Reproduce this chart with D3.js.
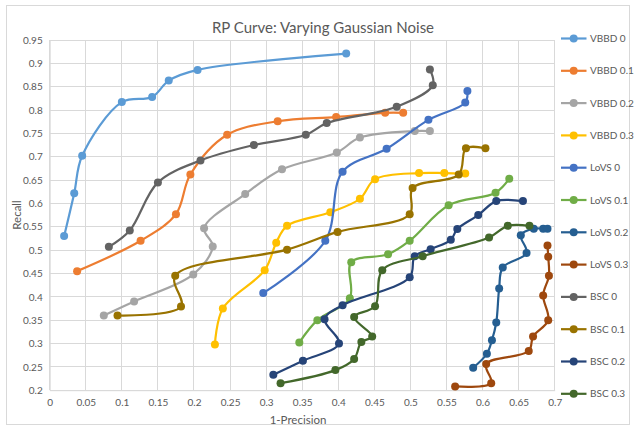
<!DOCTYPE html>
<html>
<head>
<meta charset="utf-8">
<script src="https://cdn.jsdelivr.net/npm/d3@7"></script>
<style>
  html, body { margin: 0; padding: 0; background: #fff; }
  svg { display: block; font-family: Lato, "Open Sans", sans-serif; }
</style>
</head>
<body>
<svg id="chart" width="636" height="430"></svg>
<script>
// Recall vs. (1 - precision) for each detector and noise level: [1-precision, recall]
const vbbd0  = [[0.020,0.530],[0.034,0.622],[0.045,0.702],[0.100,0.817],[0.142,0.828],[0.165,0.863],[0.205,0.886],[0.411,0.921]];
const vbbd01 = [[0.038,0.455],[0.126,0.520],[0.175,0.577],[0.195,0.662],[0.246,0.747],[0.316,0.776],[0.397,0.785],[0.465,0.794],[0.490,0.794]];
const vbbd02 = [[0.075,0.360],[0.117,0.390],[0.199,0.448],[0.226,0.508],[0.214,0.547],[0.271,0.620],[0.322,0.673],[0.398,0.709],[0.430,0.741],[0.506,0.755],[0.527,0.755]];
const vbbd03 = [[0.229,0.298],[0.240,0.375],[0.298,0.457],[0.314,0.516],[0.329,0.552],[0.389,0.581],[0.430,0.610],[0.451,0.652],[0.512,0.665],[0.547,0.665],[0.576,0.664]];
const lovs0  = [[0.296,0.408],[0.382,0.520],[0.406,0.668],[0.467,0.717],[0.525,0.779],[0.576,0.816],[0.579,0.841]];
const lovs01 = [[0.346,0.302],[0.371,0.350],[0.416,0.397],[0.418,0.474],[0.469,0.491],[0.499,0.520],[0.553,0.596],[0.618,0.623],[0.637,0.653]];
const lovs02 = [[0.587,0.248],[0.606,0.278],[0.613,0.307],[0.619,0.345],[0.623,0.418],[0.628,0.463],[0.661,0.494],[0.653,0.532],[0.671,0.546],[0.684,0.546],[0.690,0.546]];
const lovs03 = [[0.562,0.208],[0.612,0.215],[0.605,0.256],[0.664,0.284],[0.670,0.315],[0.691,0.350],[0.684,0.403],[0.692,0.445],[0.691,0.486],[0.690,0.510]];
const bsc0   = [[0.082,0.507],[0.111,0.542],[0.150,0.645],[0.209,0.692],[0.283,0.725],[0.355,0.747],[0.384,0.772],[0.481,0.807],[0.531,0.853],[0.527,0.887]];
const bsc01  = [[0.094,0.360],[0.182,0.379],[0.174,0.445],[0.329,0.501],[0.399,0.539],[0.499,0.577],[0.503,0.633],[0.567,0.662],[0.577,0.718],[0.604,0.718]];
const bsc02  = [[0.310,0.233],[0.351,0.263],[0.401,0.300],[0.381,0.352],[0.406,0.382],[0.499,0.442],[0.506,0.487],[0.528,0.502],[0.556,0.522],[0.565,0.545],[0.594,0.575],[0.619,0.605],[0.656,0.605]];
const bsc03  = [[0.320,0.215],[0.396,0.243],[0.422,0.267],[0.432,0.303],[0.447,0.315],[0.422,0.357],[0.451,0.380],[0.461,0.457],[0.517,0.487],[0.609,0.527],[0.635,0.552],[0.665,0.552]];

const seriesNames = ["VBBD 0","VBBD 0.1","VBBD 0.2","VBBD 0.3","LoVS 0","LoVS 0.1","LoVS 0.2","LoVS 0.3","BSC 0","BSC 0.1","BSC 0.2","BSC 0.3"];
const seriesValues = [vbbd0, vbbd01, vbbd02, vbbd03, lovs0, lovs01, lovs02, lovs03, bsc0, bsc01, bsc02, bsc03];
const seriesColors = ["#5B9BD5","#ED7D31","#A5A5A5","#FFC000","#4472C4","#70AD47","#255E91","#9E480E","#636363","#997300","#264478","#43682B"];

const xTicks = [0,0.05,0.1,0.15,0.2,0.25,0.3,0.35,0.4,0.45,0.5,0.55,0.6,0.65,0.7];
const yTicks = [0.2,0.25,0.3,0.35,0.4,0.45,0.5,0.55,0.6,0.65,0.7,0.75,0.8,0.85,0.9,0.95];

const svg = d3.select("#chart");
const margin = {left: 49.7, top: 40, right: 554.7, bottom: 390.2};

const x = d3.scaleLinear().domain([0, 0.7]).range([margin.left, margin.right]);
const y = d3.scaleLinear().domain([0.2, 0.95]).range([margin.bottom, margin.top]);

// chart border
svg.append("rect").attr("x", 6.5).attr("y", 5.5).attr("width", 623).attr("height", 419)
  .attr("fill", "#fff").attr("stroke", "#D9D9D9").attr("stroke-width", 1);

// gridlines
const grid = svg.append("g").attr("stroke", "#D9D9D9").attr("stroke-width", 1).attr("shape-rendering", "crispEdges");
grid.selectAll("line.v").data(xTicks).join("line").attr("class", "v")
  .attr("x1", d => x(d)).attr("x2", d => x(d)).attr("y1", margin.top).attr("y2", margin.bottom);
grid.selectAll("line.h").data(yTicks).join("line").attr("class", "h")
  .attr("y1", d => y(d)).attr("y2", d => y(d)).attr("x1", margin.left).attr("x2", margin.right);

const fmt = d => String(+d.toFixed(2));

// axes
const xAxis = svg.append("g").attr("transform", `translate(0,${margin.bottom})`)
  .call(d3.axisBottom(x).tickValues(xTicks).tickFormat(fmt).tickSize(0).tickPadding(9));
const yAxis = svg.append("g").attr("transform", `translate(${margin.left},0)`)
  .call(d3.axisLeft(y).tickValues(yTicks).tickFormat(fmt).tickSize(0).tickPadding(7));
[xAxis, yAxis].forEach(a => {
  a.select(".domain").attr("stroke", "#D9D9D9");
  a.selectAll("text").attr("fill", "#595959").style("font-size", "10px").style("font-family", "Lato, sans-serif");
});

// titles
svg.append("text").attr("x", 323).attr("y", 32.5).attr("text-anchor", "middle")
  .attr("fill", "#595959").style("font-size", "15px").text("RP Curve: Varying Gaussian Noise");
svg.append("text").attr("x", 298).attr("y", 424).attr("text-anchor", "middle")
  .attr("fill", "#595959").style("font-size", "11.5px").text("1-Precision");
svg.append("text").attr("transform", "translate(21,215) rotate(-90)").attr("text-anchor", "middle")
  .attr("fill", "#595959").style("font-size", "11.5px").text("Recall");

// series lines and markers
const line = d3.line().x(d => x(d[0])).y(d => y(d[1])).curve(d3.curveCatmullRom.alpha(0.5));
const series = svg.append("g").selectAll("g").data(seriesValues).join("g");
series.append("path").attr("d", d => line(d)).attr("fill", "none")
  .attr("stroke", (d, i) => seriesColors[i]).attr("stroke-width", 2.2).attr("stroke-linejoin", "round");
series.each(function(d, i) {
  d3.select(this).selectAll("circle").data(d).join("circle")
    .attr("cx", p => x(p[0])).attr("cy", p => y(p[1])).attr("r", 4)
    .attr("fill", seriesColors[i]);
});

// legend
const legend = svg.append("g").selectAll("g").data(seriesNames).join("g")
  .attr("transform", (d, i) => `translate(0,${38.5 + i * 32.3})`);
legend.append("line").attr("x1", 561).attr("x2", 586.5).attr("y1", 0).attr("y2", 0)
  .attr("stroke", (d, i) => seriesColors[i]).attr("stroke-width", 2.2);
legend.append("circle").attr("cx", 573.7).attr("cy", 0).attr("r", 4).attr("fill", (d, i) => seriesColors[i]);
legend.append("text").attr("x", 590).attr("y", 0).attr("dy", "0.35em")
  .attr("fill", "#595959").style("font-size", "10px").text(d => d);
</script>
</body>
</html>
